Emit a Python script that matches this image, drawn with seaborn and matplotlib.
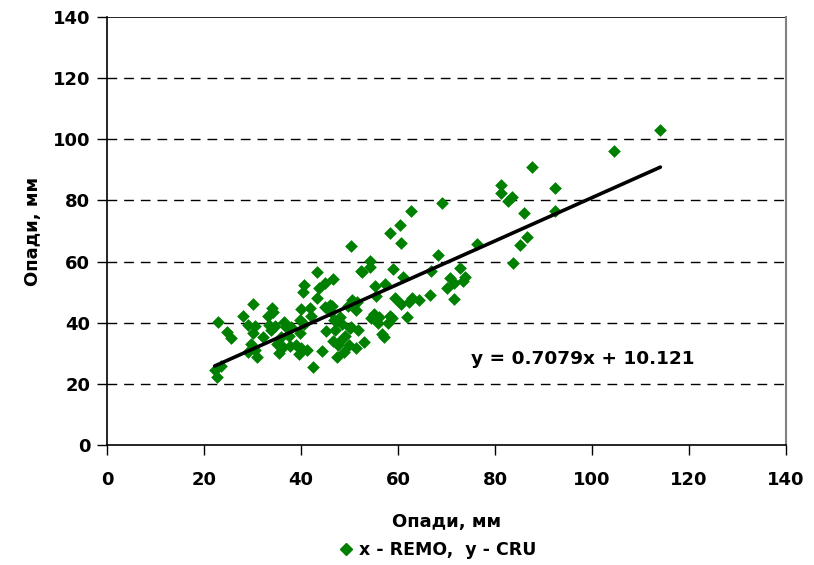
import matplotlib
matplotlib.use("Agg")
import matplotlib.pyplot as plt
import seaborn as sns
import numpy as np
import pandas as pd
from matplotlib.lines import Line2D

# data (x - REMO, y - CRU, precipitation mm)
remo_x = [114.1, 104.6, 87.6, 81.2, 81.2, 83.5, 82.7, 92.3, 92.3, 86.0, 86.6, 85.2, 83.7, 76.3,
          69.1, 62.7, 60.4, 58.4, 68.3, 66.8, 73.8, 72.8, 71.6, 71.6, 70.2, 61.0, 60.6, 54.3,
          52.4, 50.4, 57.4, 55.3, 55.5, 62.9, 64.4, 66.6, 60.6, 55.0, 54.5, 55.9, 58.4, 58.0,
          56.7, 59.4, 58.8, 51.8, 50.2, 50.6, 51.6, 49.7, 48.1, 47.5, 48.5, 47.1, 49.0, 47.7,
          49.8, 51.4, 46.5, 45.2, 46.1, 45.0, 46.0, 43.4, 43.8, 45.0, 43.4, 46.5, 40.7, 40.5,
          40.1, 39.7, 41.9, 42.1, 40.7, 39.7, 38.9, 40.1, 41.3, 39.5, 42.4, 44.4, 37.6, 37.0,
          36.4, 35.8, 35.0, 36.2, 37.8, 33.9, 34.3, 33.1, 34.1, 34.7, 32.1, 33.3, 35.4, 30.6,
          30.0, 29.6, 29.0, 30.6, 31.0, 30.2, 28.0, 29.0, 22.8, 24.7, 25.5, 22.2, 22.6, 23.6,
          38.0, 59.0, 70.7, 73.4, 62.3, 61.9, 56.1, 57.2, 51.4, 46.3, 46.9, 50.4, 53.0, 47.9,
          47.5, 48.9, 52.6, 54.3]
cru_y = [103.0, 96.2, 91.0, 85.0, 82.4, 81.0, 79.8, 84.0, 76.5, 76.0, 68.0, 65.4, 59.5, 65.7,
         79.0, 76.5, 72.0, 69.3, 62.0, 57.0, 55.0, 58.0, 53.0, 47.8, 51.4, 55.0, 66.0, 58.2,
         57.0, 65.0, 52.7, 52.0, 48.7, 48.0, 47.4, 49.0, 46.0, 43.0, 41.5, 40.0, 42.2, 40.0,
         36.3, 48.0, 41.5, 37.6, 38.3, 47.4, 46.8, 45.5, 41.9, 40.6, 39.6, 37.6, 35.7, 32.7,
         32.7, 31.7, 34.0, 37.3, 43.5, 45.0, 45.8, 48.0, 51.4, 53.0, 56.6, 54.3, 52.3, 50.0,
         44.5, 40.9, 44.8, 42.2, 39.6, 36.6, 32.7, 31.7, 31.1, 29.8, 25.5, 30.7, 35.7, 38.6,
         40.2, 35.3, 33.0, 32.0, 32.4, 37.6, 43.5, 42.2, 44.8, 39.0, 35.3, 39.3, 30.0, 39.0,
         36.6, 33.0, 30.4, 31.1, 28.8, 46.0, 42.2, 39.3, 40.2, 37.0, 35.0, 24.5, 22.2, 25.8,
         38.6, 57.6, 54.6, 53.6, 46.8, 41.9, 41.9, 35.3, 44.2, 45.5, 40.9, 38.6, 33.7, 33.7,
         28.8, 30.4, 56.6, 60.2]
slope = 0.7079
intercept = 10.121
legend_label = "x - REMO,  y - CRU"
axis_label = "Опади, мм"
ticks = [0, 20, 40, 60, 80, 100, 120, 140]

df = pd.DataFrame({"x": remo_x, "y": cru_y})
xs = np.array([min(remo_x), max(remo_x)])
trend = pd.DataFrame({"x": xs, "y": slope * xs + intercept})

sns.set_theme(style="white")
plt.rcParams['font.family'] = ['DejaVu Sans']
plt.rcParams.update({"text.color": "black", "axes.labelcolor": "black",
                     "xtick.color": "black", "ytick.color": "black"})

fig = plt.figure(figsize=(8.14, 5.65), dpi=100)
ax = fig.add_axes([107 / 814, 1 - 445 / 565, (786 - 107) / 814, (445 - 17) / 565])

for t in ticks[1:-1]:
    ax.axhline(t, color="black", lw=1.0, ls=(0, (7, 5)), zorder=1)
ax.axhline(140, color="black", lw=1.2, zorder=1)

sns.scatterplot(data=df, x="x", y="y", marker="D", s=42, color="#008000",
                linewidth=0, ax=ax, zorder=3, legend=False)
sns.lineplot(data=trend, x="x", y="y", color="black", lw=2.6, ax=ax, zorder=4)

ax.set_xlim(0, 140)
ax.set_ylim(0, 140)
ax.set_xticks(ticks)
ax.set_yticks(ticks)
ax.tick_params(axis="both", which="both", direction="out", length=7, width=1,
               colors="black", labelsize=13)
ax.tick_params(axis="x", pad=12)
ax.tick_params(axis="y", pad=5)
for lab in ax.get_xticklabels() + ax.get_yticklabels():
    lab.set_fontweight("bold")
ax.tick_params(left=True, bottom=True)

for side in ["left", "bottom"]:
    ax.spines[side].set_color("black")
    ax.spines[side].set_linewidth(1.2)
ax.spines["top"].set_visible(False)
ax.spines["right"].set_color("#808080")
ax.spines["right"].set_linewidth(1.5)

ax.set_xlabel(axis_label, fontsize=13, fontweight="bold", labelpad=17, color="black")
ax.set_ylabel(axis_label, fontsize=13, fontweight="bold", labelpad=8, color="black")

ax.text(583 / 814, 1 - 359 / 565, "y = 0.7079x + 10.121", transform=fig.transFigure,
        ha="center", va="center", fontsize=13.3, fontweight="bold", color="black")

h = Line2D([], [], marker="D", color="#008000", ls="none", markersize=6.5)
fig.legend([h], [legend_label], loc="center", bbox_to_anchor=(436 / 814, 1 - 550 / 565),
           frameon=False, prop={"weight": "bold", "size": 12.5},
           handletextpad=0.2, handlelength=1.2, borderpad=0)

fig.savefig("out.png", dpi=100)
